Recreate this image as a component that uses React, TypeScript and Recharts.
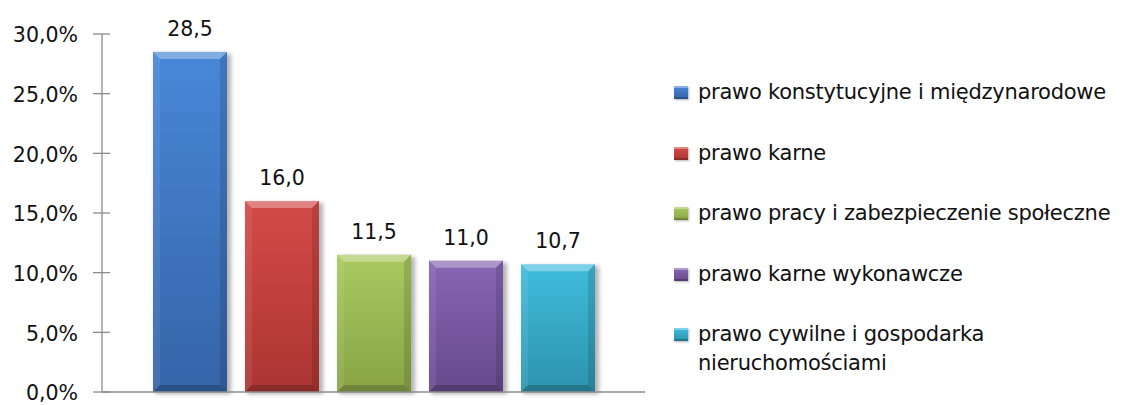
import { Bar, BarChart, LabelList, XAxis, YAxis } from "recharts";

const seriesNames = [
  "prawo konstytucyjne i międzynarodowe",
  "prawo karne",
  "prawo pracy i zabezpieczenie społeczne",
  "prawo karne wykonawcze",
  "prawo cywilne i gospodarka nieruchomościami",
];
const seriesValues = [28.5, 16.0, 11.5, 11.0, 10.7];
const seriesLight = ["#4887d8", "#d44a48", "#a9c95f", "#8865b3", "#40bcdc"];
const seriesDark = ["#3564a8", "#ab3533", "#88a446", "#664a8c", "#2d93ae"];
const yTicks = [0, 5, 10, 15, 20, 25, 30];

const keys = seriesNames.map((_, i) => `s${i}`);
const row: Record<string, number | string> = { name: "" };
keys.forEach((k, i) => {
  row[k] = seriesValues[i];
});
const data = [row];

const WIDTH = 1126;
const HEIGHT = 405;
const Y_AXIS_WIDTH = 102;
const FONT = "'DejaVu Sans', sans-serif";
const AXIS_GREY = "#8c8c8c";

const fmt = (v: number) => v.toFixed(1).replace(".", ",");

function YTick({ y, payload }: any) {
  const ax = Y_AXIS_WIDTH;
  return (
    <g>
      <line x1={ax - 9} x2={ax + 8} y1={y} y2={y} stroke={AXIS_GREY} strokeWidth={1.3} />
      <text
        x={ax - 24}
        y={y}
        dy="0.4em"
        textAnchor="end"
        fontFamily={FONT}
        fontSize={20.5}
        fill="#111"
      >
        {fmt(payload.value)}%
      </text>
    </g>
  );
}

function makeBevelBar(idx: number) {
  return function BevelBar(props: any) {
    const { x, y, width, height } = props;
    if (!height || height <= 0) return null;
    const b = 7;
    const r = x + width;
    const btm = y + height;
    return (
      <g>
        <rect
          x={x + 2}
          y={y + 2}
          width={width + 2}
          height={height}
          fill="rgba(0,0,0,0.3)"
          filter="url(#barShadow)"
        />
        <rect x={x} y={y} width={width} height={height} fill={`url(#barGrad${idx})`} />
        <polygon
          points={`${x},${y} ${r},${y} ${r - b},${y + b} ${x + b},${y + b}`}
          fill="rgba(255,255,255,0.32)"
        />
        <polygon
          points={`${x},${y} ${x + b},${y + b} ${x + b},${btm - b} ${x},${btm}`}
          fill="rgba(255,255,255,0.08)"
        />
        <polygon
          points={`${r},${y} ${r},${btm} ${r - b},${btm - b} ${r - b},${y + b}`}
          fill="rgba(0,0,0,0.12)"
        />
        <polygon
          points={`${x},${btm} ${r},${btm} ${r - b},${btm - b} ${x + b},${btm - b}`}
          fill="rgba(0,0,0,0.2)"
        />
      </g>
    );
  };
}

function ChartLegend() {
  return (
    <div
      style={{
        position: "absolute",
        left: 674,
        top: 0,
        width: 450,
        fontFamily: FONT,
        fontSize: 21,
        letterSpacing: "-0.25px",
        color: "#111",
      }}
    >
      {seriesNames.map((name, i) => (
        <div
          key={name}
          style={{
            position: "absolute",
            left: 0,
            top: 78 + i * 60.5,
            display: "flex",
            alignItems: "flex-start",
            width: 450,
            lineHeight: "29px",
          }}
        >
          <span
            style={{
              display: "inline-block",
              width: 14,
              height: 13,
              marginTop: 8,
              marginRight: 10,
              flex: "none",
              background: `linear-gradient(to bottom, ${seriesLight[i]}, ${seriesDark[i]})`,
              boxShadow:
                "inset 0 2px 0 rgba(255,255,255,0.35), inset 0 -2px 0 rgba(0,0,0,0.2), 1px 1px 2px rgba(0,0,0,0.3)",
            }}
          />
          <span
            style={{
              width: 300,
              whiteSpace: i === seriesNames.length - 1 ? "normal" : "nowrap",
            }}
          >
            {name}
          </span>
        </div>
      ))}
    </div>
  );
}

export default function App() {
  return (
    <div style={{ position: "relative", width: WIDTH, height: HEIGHT, background: "#fff", overflow: "hidden" }}>
      <style>{"body{margin:0}"}</style>
      <BarChart
        width={WIDTH}
        height={HEIGHT}
        data={data}
        margin={{ top: 34, right: WIDTH - 645, bottom: 0, left: 0 }}
        barGap={18}
      >
        <defs>
          {keys.map((k, i) => (
            <linearGradient key={k} id={`barGrad${i}`} x1="0" y1="0" x2="0" y2="1">
              <stop offset="0%" stopColor={seriesLight[i]} />
              <stop offset="100%" stopColor={seriesDark[i]} />
            </linearGradient>
          ))}
          <filter id="barShadow" x="-20%" y="-20%" width="140%" height="140%">
            <feGaussianBlur stdDeviation="2" />
          </filter>
        </defs>
        <XAxis
          dataKey="name"
          height={13}
          tick={false}
          tickLine={false}
          axisLine={{ stroke: AXIS_GREY, strokeWidth: 1.3 }}
        />
        <YAxis
          width={Y_AXIS_WIDTH}
          domain={[0, 30]}
          ticks={yTicks}
          interval={0}
          tickLine={false}
          axisLine={{ stroke: AXIS_GREY, strokeWidth: 1.3 }}
          tick={<YTick />}
        />
        {keys.map((k, i) => (
          <Bar
            key={k}
            dataKey={k}
            name={seriesNames[i]}
            fill={seriesLight[i]}
            barSize={74}
            isAnimationActive={false}
            shape={makeBevelBar(i)}
          >
            <LabelList
              dataKey={k}
              position="top"
              offset={16}
              formatter={(v: any) => fmt(Number(v))}
              style={{ fontFamily: FONT, fontSize: 20.5, fill: "#111" }}
            />
          </Bar>
        ))}
      </BarChart>
      <ChartLegend />
    </div>
  );
}
